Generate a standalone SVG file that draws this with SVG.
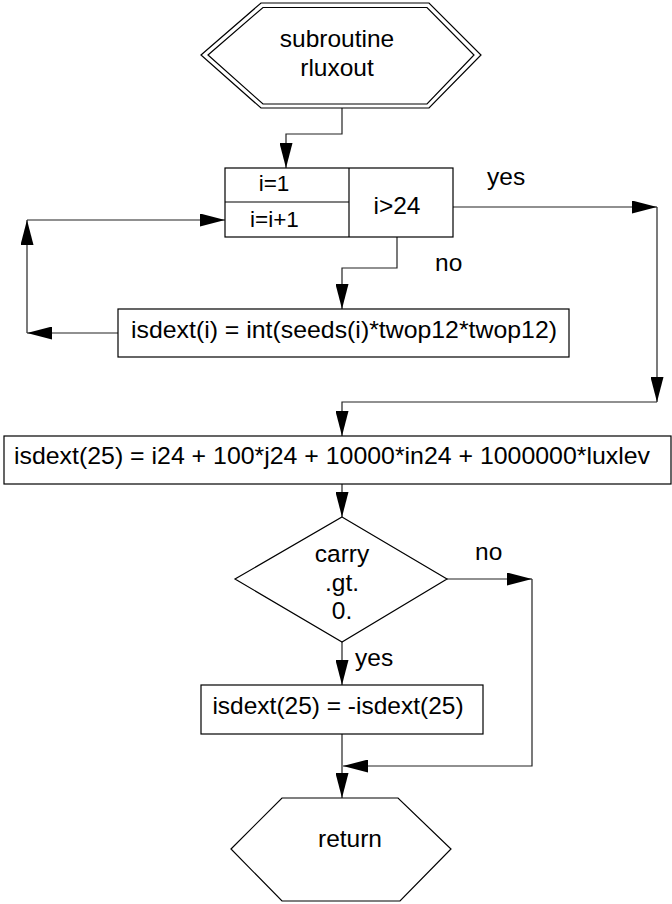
<svg xmlns="http://www.w3.org/2000/svg" width="672" height="904" viewBox="0 0 672 904">
<style>
.s{fill:#fff;stroke:#000;stroke-width:1.2}
.c{fill:none;stroke:#222;stroke-width:1.2}
text{font-family:"Liberation Sans",Arial,sans-serif;font-size:24.5px;fill:#000}
.m{text-anchor:middle}
.sm{font-size:22.5px}
</style>
<defs>
<marker id="a" markerUnits="userSpaceOnUse" markerWidth="25" markerHeight="13" refX="25" refY="6.5" orient="auto">
<path d="M0,0 L25,6.5 L0,13 Z" fill="#000"/>
</marker>
</defs>
<rect width="672" height="904" fill="#fff"/>
<g id="connectors">
<path class="c" d="M342,108 V134 H286 V168" marker-end="url(#a)"/>
<path class="c" d="M453,207 H657" marker-end="url(#a)"/>
<path class="c" d="M657,207 V402" marker-end="url(#a)"/>
<path class="c" d="M657,402 H342 V436" marker-end="url(#a)"/>
<path class="c" d="M397,237 V268 H342 V309" marker-end="url(#a)"/>
<path class="c" d="M118,333 H27" marker-end="url(#a)"/>
<path class="c" d="M27,333 V220" marker-end="url(#a)"/>
<path class="c" d="M27,220 H225" marker-end="url(#a)"/>
<path class="c" d="M342,484 V517" marker-end="url(#a)"/>
<path class="c" d="M342,642 V685" marker-end="url(#a)"/>
<path class="c" d="M447,579 H532" marker-end="url(#a)"/>
<path class="c" d="M532,579 V766 H343" marker-end="url(#a)"/>
<path class="c" d="M342,734 V798" marker-end="url(#a)"/>
<text x="487" y="185">yes</text>
<text x="435" y="271">no</text>
<text x="475" y="560">no</text>
<text x="355" y="666">yes</text>
</g>
<g id="start">
<polygon class="s" points="201,55 261,3 429,3 481,55 429,108 261,108"/>
<polygon class="s" points="208,55 263,7.5 427,7.5 474,55 427,104 263,104"/>
<text class="m" x="337" y="47">subroutine</text>
<text class="m" x="337" y="76">rluxout</text>
</g>
<g id="loop">
<rect class="s" x="225" y="168" width="228" height="69"/>
<line class="s" x1="349" y1="168" x2="349" y2="237"/>
<line class="s" x1="225" y1="202" x2="349" y2="202"/>
<text class="m sm" x="274" y="191">i=1</text>
<text class="m sm" x="274.5" y="227">i=i+1</text>
<text class="m" x="397" y="214">i&gt;24</text>
</g>
<g id="body">
<rect class="s" x="118" y="309" width="451" height="48"/>
<text x="131" y="338" textLength="426" lengthAdjust="spacingAndGlyphs">isdext(i) = int(seeds(i)*twop12*twop12)</text>
</g>
<g id="pack">
<rect class="s" x="4" y="436" width="667" height="48"/>
<text x="14" y="464" textLength="636" lengthAdjust="spacingAndGlyphs">isdext(25) = i24 + 100*j24 + 10000*in24 + 1000000*luxlev</text>
</g>
<g id="decision">
<polygon class="s" points="342,517 447,579 342,642 235,579"/>
<text class="m" x="342" y="562">carry</text>
<text class="m" x="342" y="591">.gt.</text>
<text class="m" x="342" y="619">0.</text>
</g>
<g id="negate">
<rect class="s" x="201" y="685" width="282" height="49"/>
<text class="m" x="338" y="714">isdext(25) = -isdext(25)</text>
</g>
<g id="return">
<polygon class="s" points="231,849 282,798 398,798 451,849 400,901 282,901"/>
<text class="m" x="350" y="847">return</text>
</g>
</svg>
